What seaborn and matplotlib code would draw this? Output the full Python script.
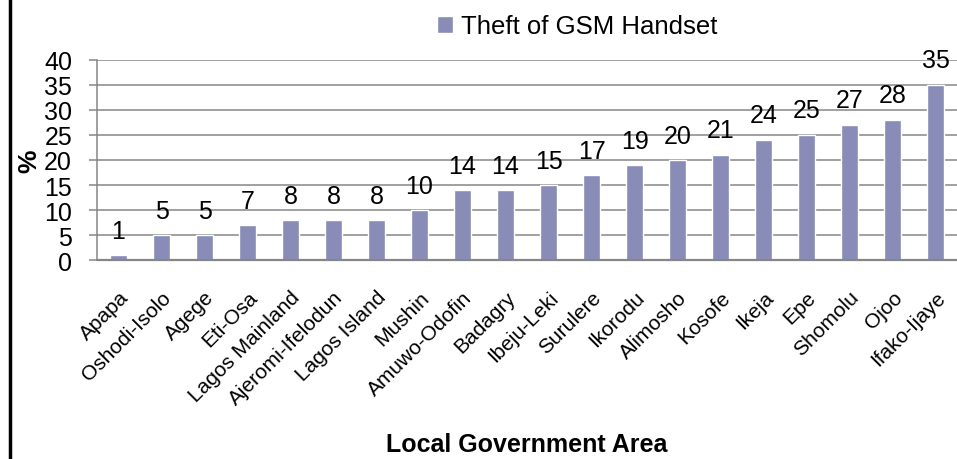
import pandas as pd
import matplotlib
matplotlib.use("Agg")
import matplotlib.pyplot as plt
import seaborn as sns
from matplotlib.lines import Line2D

# Theft of GSM Handset by Local Government Area (%)
areas = ["Apapa", "Oshodi-Isolo", "Agege", "Eti-Osa", "Lagos Mainland",
         "Ajeromi-Ifelodun", "Lagos Island", "Mushin", "Amuwo-Odofin",
         "Badagry", "Ibeju-Leki", "Surulere", "Ikorodu", "Alimosho",
         "Kosofe", "Ikeja", "Epe", "Shomolu", "Ojoo", "Ifako-Ijaye"]
values = [1, 5, 5, 7, 8, 8, 8, 10, 14, 14, 15, 17, 19, 20, 21, 24, 25, 27, 28, 35]
y_ticks = [0, 5, 10, 15, 20, 25, 30, 35, 40]

data = pd.DataFrame({"area": areas, "pct": values})

sns.set_style("white")
plt.rcParams["font.family"] = ["Liberation Sans", "DejaVu Sans"]
plt.rcParams["text.color"] = "black"
plt.rcParams["axes.labelcolor"] = "black"

fig = plt.figure(figsize=(9.57, 4.60), dpi=100)
ax = fig.add_axes([0.1014, 0.4326, 0.8986, 0.4348])

bar_color = "#8a8cb8"
grid_color = "#868686"

sns.barplot(data=data, x="area", y="pct", color=bar_color, width=0.4,
            saturation=1, label="Theft of GSM Handset", ax=ax)

ax.set_ylim(0, 40)
ax.set_xlim(-0.5, len(data) - 0.5)
ax.set_yticks(y_ticks)
ax.yaxis.grid(True, color=grid_color, linewidth=1.1)
ax.set_axisbelow(True)
for side in ["top", "right", "bottom"]:
    ax.spines[side].set_visible(False)
ax.spines["left"].set_color(grid_color)
ax.spines["left"].set_linewidth(1.1)
ax.axhline(0, color=grid_color, linewidth=1.6, clip_on=False)

ax.tick_params(axis="y", left=True, length=6, width=1.1, color=grid_color,
               labelcolor="black", labelsize=18, pad=12)
ax.tick_params(axis="x", bottom=False, labelcolor="black", labelsize=15, pad=16)
plt.setp(ax.get_xticklabels(), rotation=45, ha="right", rotation_mode="anchor")

ax.bar_label(ax.containers[0], fontsize=18, padding=9, color="black")

ax.set_xlabel("Local Government Area", fontsize=18, fontweight="bold")
ax.xaxis.set_label_coords(0.5, -0.86)
ax.set_ylabel("%", fontsize=19, fontweight="bold")
ax.yaxis.label.set(ha="center", va="center")
ax.yaxis.set_label_coords(-0.079, 0.5)

ax.legend(loc="center", bbox_to_anchor=(577 / 957, 0.941),
          bbox_transform=fig.transFigure, frameon=False, fontsize=18.5,
          handlelength=0.65, handleheight=0.65, handletextpad=0.3)

# left frame line of the chart area
fig.add_artist(Line2D([9.5 / 957, 9.5 / 957], [0, 1], color="black",
                      linewidth=2.5, transform=fig.transFigure))

fig.savefig("out.png", dpi=100)
